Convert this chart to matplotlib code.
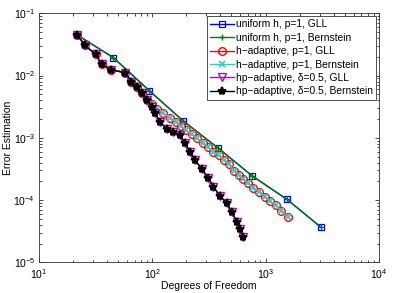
import matplotlib
matplotlib.use("Agg")
import matplotlib.pyplot as plt
from matplotlib.ticker import LogLocator, NullFormatter

plt.rcParams['font.family'] = ['Liberation Sans', 'DejaVu Sans']
plt.rcParams['mathtext.fontset'] = 'custom'
plt.rcParams['mathtext.rm'] = 'Liberation Sans'
plt.rcParams['mathtext.it'] = 'Liberation Sans:italic'

# uniform refinement, p=1
dof_uniform = [21.9, 45.5, 94, 188, 384, 765, 1538, 3083]
err_uniform = [0.0448, 0.0194, 5.75e-3, 1.86e-3, 6.78e-4, 2.43e-4, 1.03e-4, 3.65e-5]

# h-adaptive, p=1
dof_h = [21.9, 25.6, 31.7, 35.9, 43.4, 58.0, 65.5, 73.1, 81.9, 90.7,
         99.8, 110.5, 124.8, 143.8, 162.5, 178.0, 199.0, 223.5, 248.8, 278.2,
         311.1, 344.4, 389.0, 430.5, 476.6, 527.6, 587.5, 637.4, 705.2, 780.6,
         881.9, 990, 1096, 1238, 1370, 1589]
err_h = [0.0448, 0.0304, 0.0220, 0.01522, 0.01228, 0.01119, 8.02e-3, 6.62e-3, 5.19e-3, 4.05e-3,
         3.43e-3, 2.90e-3, 2.47e-3, 2.08e-3, 1.81e-3, 1.55e-3, 1.33e-3, 1.13e-3, 9.82e-4, 8.25e-4,
         7.19e-4, 6.02e-4, 5.20e-4, 4.40e-4, 3.79e-4, 2.98e-4, 2.53e-4, 2.14e-4, 1.86e-4, 1.56e-4,
         1.36e-4, 1.14e-4, 9.55e-5, 8.18e-5, 6.79e-5, 5.40e-5]

# hp-adaptive, delta=0.5
dof_hp = [21.9, 25.6, 31.7, 35.9, 43.4, 58.0, 65.5, 73.1, 81.9, 90.7,
          98.8, 106.1, 117.4, 134.5, 153.8, 176.2, 195.1, 215.9, 238.9, 273.8,
          313.1, 346.5, 396.9, 454.9, 503.5, 557.2, 595.9, 637.4]
err_hp = [0.0448, 0.0304, 0.0220, 0.01522, 0.01228, 0.01119, 8.02e-3, 6.62e-3, 5.19e-3, 4.05e-3,
          3.13e-3, 2.47e-3, 1.81e-3, 1.38e-3, 1.25e-3, 1.09e-3, 8.16e-4, 5.98e-4, 4.40e-4, 3.15e-4,
          2.26e-4, 1.64e-4, 1.16e-4, 8.87e-5, 6.50e-5, 4.49e-5, 3.43e-5, 2.55e-5]

fig = plt.figure(figsize=(3.93, 2.93), dpi=100)
ax = fig.add_axes([0.0985, 0.1048, 0.8659, 0.8498])

ax.loglog(dof_uniform, err_uniform, '-s', color='b', mfc='none', ms=4.5, mew=0.9, lw=1.0,
          label='uniform h, p=1, GLL')
ax.loglog(dof_uniform, err_uniform, '-+', color=(0, 0.5, 0), ms=5, mew=1.0, lw=1.0,
          label='uniform h, p=1, Bernstein')
ax.loglog(dof_h, err_h, '-o', color='r', mfc='none', ms=5.5, mew=1.0, lw=1.0,
          label='h\u2212adaptive, p=1, GLL')
ax.loglog(dof_h, err_h, '-x', color=(0.2, 0.78, 0.78), ms=4.5, mew=1.2, lw=1.0,
          label='h\u2212adaptive, p=1, Bernstein')
ax.loglog(dof_hp, err_hp, '-v', color='m', mfc='none', ms=5.5, mew=1.0, lw=1.0,
          label='hp\u2212adaptive, \u03b4=0.5, GLL')
ax.loglog(dof_hp, err_hp, '-*', color='k', ms=6, mew=1.5, lw=1.0,
          label='hp\u2212adaptive, \u03b4=0.5, Bernstein')

ax.set_xlim(10, 1e4)
ax.set_ylim(1e-5, 1e-1)
ax.xaxis.set_major_locator(LogLocator(base=10, numticks=10))
ax.yaxis.set_major_locator(LogLocator(base=10, numticks=10))
ax.xaxis.set_minor_locator(LogLocator(base=10, subs=range(2, 10), numticks=20))
ax.yaxis.set_minor_locator(LogLocator(base=10, subs=range(2, 10), numticks=20))
ax.xaxis.set_minor_formatter(NullFormatter())
ax.yaxis.set_minor_formatter(NullFormatter())
ax.tick_params(which='both', direction='in', top=True, right=True, labelsize=7.5, width=0.5)
ax.tick_params(axis='x', which='both', pad=3.5)
ax.tick_params(axis='y', which='both', pad=2.5)
ax.tick_params(which='major', length=3)
ax.tick_params(which='minor', length=1.8)
for s in ax.spines.values():
    s.set_linewidth(0.6)
    s.set_color('#333333')

ax.set_xlabel('Degrees of Freedom', fontsize=7.5, labelpad=0)
ax.set_ylabel('Error Estimation', fontsize=7.5, labelpad=0)

leg = ax.legend(loc='upper right', fontsize=7.4, fancybox=False, framealpha=1,
                edgecolor='#333333', borderaxespad=0.3, borderpad=0.3,
                handlelength=2.4, handletextpad=0.15, labelspacing=0.33)
leg.get_frame().set_linewidth(0.6)

fig.savefig('out.png', dpi=100)
